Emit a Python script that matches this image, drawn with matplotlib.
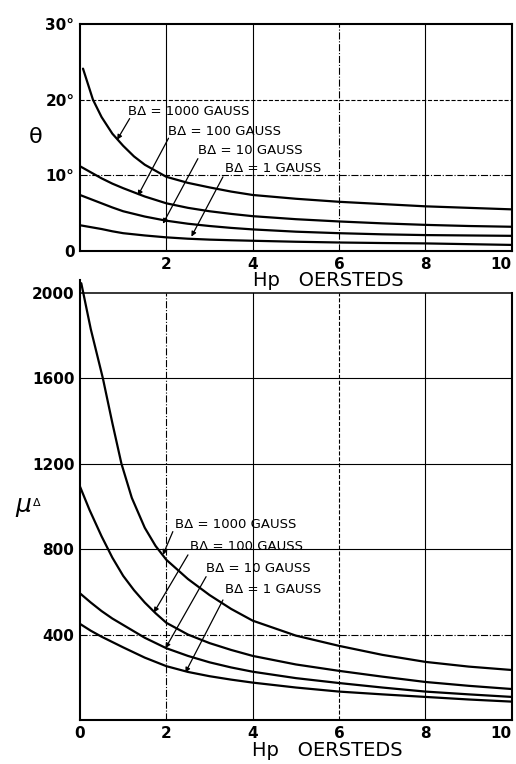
import matplotlib
matplotlib.use("Agg")
from matplotlib import pyplot as plt

# Hp in oersteds (reading positions)
hp = [0, 0.25, 0.5, 0.75, 1, 1.5, 2, 2.5, 3, 3.5, 4, 5, 6, 7, 8, 9, 10]

# theta (degrees) vs Hp
hp_theta_1000 = [0.07, 0.3, 0.5, 0.75, 1.0, 1.25, 1.5, 2, 2.5, 3, 3.5, 4, 5, 6, 7, 8, 9, 10]
theta_1000 = [24.1, 20.0, 17.7, 15.5, 13.9, 12.5, 11.4, 9.8, 9.0, 8.4, 7.85, 7.4, 6.9, 6.5, 6.2, 5.9, 5.7, 5.5]
theta_100 = [11.2, 10.4, 9.6, 8.9, 8.3, 7.2, 6.3, 5.7, 5.25, 4.9, 4.6, 4.2, 3.9, 3.65, 3.45, 3.3, 3.2]
theta_10 = [7.4, 6.85, 6.3, 5.75, 5.25, 4.55, 4.0, 3.6, 3.3, 3.05, 2.85, 2.55, 2.35, 2.2, 2.1, 2.05, 2.0]
theta_1 = [3.4, 3.15, 2.9, 2.6, 2.35, 2.05, 1.8, 1.62, 1.5, 1.42, 1.35, 1.22, 1.12, 1.05, 1.0, 0.9, 0.8]

# incremental permeability vs Hp
hp_mu_1000 = [0.03, 0.25, 0.53, 0.75, 0.96, 1.2, 1.5, 1.75, 2, 2.5, 3, 3.5, 4, 5, 6, 7, 8, 9, 10]
mu_1000 = [2045, 1830, 1600, 1390, 1200, 1040, 900, 815, 750, 660, 585, 520, 465, 395, 347, 305, 272, 250, 234]
hp_mu_100 = [0, 0.22, 0.5, 0.75, 1, 1.25, 1.5, 1.75, 2, 2.5, 3, 3.5, 4, 5, 6, 7, 8, 9, 10]
mu_100 = [1093, 984, 860, 760, 675, 608, 550, 500, 455, 400, 360, 328, 300, 260, 230, 203, 178, 160, 145]
mu_10 = [593, 550, 510, 475, 445, 385, 336, 300, 270, 246, 226, 196, 173, 152, 133, 120, 108]
mu_1 = [450, 418, 390, 365, 340, 292, 252, 225, 205, 189, 175, 152, 133, 120, 108, 96, 86]

labels = ["B\u0394 = 1000 GAUSS", "B\u0394 = 100 GAUSS", "B\u0394 = 10 GAUSS", "B\u0394 = 1 GAUSS"]

plt.rcParams['font.family'] = ['DejaVu Sans']
fig = plt.figure(figsize=(5.16, 7.64), dpi=100)

CURVE = dict(color='black', lw=1.6, solid_capstyle='round', solid_joinstyle='round')
GRID = dict(color='black', lw=0.8)
ARROW = dict(arrowstyle='-|>', color='black', lw=0.9, mutation_scale=7,
             shrinkA=0, shrinkB=0)


def style_ticks(ax):
    ax.tick_params(length=0, labelsize=11, pad=4)
    for t in ax.get_xticklabels() + ax.get_yticklabels():
        t.set_fontweight('bold')
    ax.get_xticklabels()[-1].set_horizontalalignment('right')
    for s in ax.spines.values():
        s.set_linewidth(1.5)


# ---------------- theta plot ----------------
ax1 = fig.add_axes([0.155, 0.6715, 0.837, 0.2971])
ax1.set_xlim(0, 10)
ax1.set_ylim(0, 30)
for x, ls in zip([2, 4, 6, 8], ['-', '-', '-.', '-']):
    ax1.axvline(x, ls=ls, **GRID)
for y, ls in zip([10, 20], ['-.', '--']):
    ax1.axhline(y, ls=ls, **GRID)

ax1.plot(hp_theta_1000, theta_1000, **CURVE)
ax1.plot(hp, theta_100, **CURVE)
ax1.plot(hp, theta_10, **CURVE)
ax1.plot(hp, theta_1, **CURVE)

top_text = [(1.11, 18.4), (2.04, 15.85), (2.73, 13.3), (3.35, 10.9)]
top_arrow = [((1.15, 17.5), (0.86, 14.7)), ((2.05, 14.9), (1.34, 7.3)),
             ((2.73, 12.2), (1.92, 3.6)), ((3.31, 9.8), (2.58, 1.9))]
for lab, (tx, ty), (a0, a1) in zip(labels, top_text, top_arrow):
    ax1.text(tx, ty, lab, fontsize=9.5, ha='left', va='center')
    ax1.annotate('', xy=a1, xytext=a0, arrowprops=ARROW)

ax1.set_xticks([2, 4, 6, 8, 10])
ax1.set_xticklabels(['2', '4', '6', '8', '10'])
ax1.set_yticks([0, 10, 20, 30])
ax1.set_yticklabels(['0', '10\u00b0', '20\u00b0', '30\u00b0'])
style_ticks(ax1)
fig.text(0.07, 1 - 137 / 764, '\u03b8', fontsize=16, ha='center', va='center')
fig.text(0.49, 1 - 280 / 764, 'Hp   OERSTEDS', fontsize=14, ha='left', va='center')

# ---------------- mu plot ----------------
ax2 = fig.add_axes([0.155, 0.0576, 0.837, 0.5759])
ax2.set_xlim(0, 10)
ax2.set_ylim(0, 2060)
for x, ls in zip([2, 4, 6, 8], ['-.', '-', '--', '-']):
    ax2.axvline(x, ymax=2000 / 2060, ls=ls, **GRID)
for y, ls in zip([400, 800, 1200, 1600], ['-.', '-', '-', '-']):
    ax2.axhline(y, ls=ls, **GRID)
ax2.axhline(2000, color='black', lw=1.1)

ax2.plot(hp_mu_1000, mu_1000, **CURVE)
ax2.plot(hp_mu_100, mu_100, **CURVE)
ax2.plot(hp, mu_10, **CURVE)
ax2.plot(hp, mu_1, **CURVE)

bot_text = [(2.19, 913), (2.54, 812), (2.92, 710), (3.35, 612)]
bot_arrow = [((2.15, 882), (1.92, 773)), ((2.5, 773), (1.71, 503)),
             ((2.92, 671), (1.98, 336)), ((3.31, 562), (2.44, 222))]
for lab, (tx, ty), (a0, a1) in zip(labels, bot_text, bot_arrow):
    ax2.text(tx, ty, lab, fontsize=9.5, ha='left', va='center')
    ax2.annotate('', xy=a1, xytext=a0, arrowprops=ARROW)

ax2.set_xticks([0, 2, 4, 6, 8, 10])
ax2.set_yticks([400, 800, 1200, 1600, 2000])
ax2.spines['top'].set_visible(False)
ax2.spines['right'].set_bounds(0, 2000)
style_ticks(ax2)
fig.text(0.045, 1 - 505 / 764, '\u03bc', fontsize=18, style='italic', ha='center', va='center')
fig.text(0.072, 1 - 503 / 764, '\u0394', fontsize=8, ha='center', va='center')
fig.text(0.488, 1 - 751 / 764, 'Hp   OERSTEDS', fontsize=14, ha='left', va='center')

fig.savefig('out.png', dpi=100)
